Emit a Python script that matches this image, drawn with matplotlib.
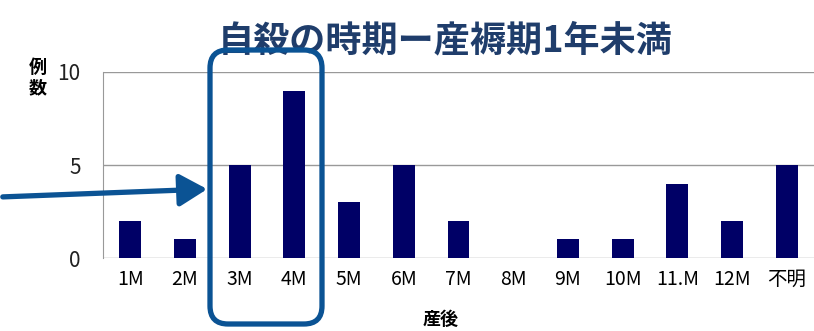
import matplotlib.pyplot as plt
import matplotlib.patches as patches
import numpy as np

plt.rcParams['font.family'] = ['Noto Sans CJK JP', 'DejaVu Sans']

months = ['1M', '2M', '3M', '4M', '5M', '6M', '7M', '8M', '9M', '10M', '11.M', '12M', '不明']
counts = [2, 1, 5, 9, 3, 5, 2, 0, 1, 1, 4, 2, 5]
yticks = [0, 5, 10]

fig = plt.figure(figsize=(8.14, 3.31), dpi=100)
ax = fig.add_axes([0.1265, 0.2205, 0.8735, 0.562])

x = np.arange(len(months))
ax.bar(x, counts, width=0.4, color='#000066', zorder=3)

ax.set_xlim(-0.5, len(months) - 0.5)
ax.set_ylim(0, 10)
ax.set_yticks(yticks)
ax.set_yticklabels([str(v) for v in yticks], fontsize=15, color='#222222')
ax.set_xticks(x)
ax.set_xticklabels(months, fontsize=14)
ax.tick_params(length=0)
ax.tick_params(axis='y', pad=16)
ax.tick_params(axis='x', pad=8)
for v in yticks:
    ax.axhline(v, color='#999999', lw=1, zorder=1)
for s in ['top', 'right', 'bottom']:
    ax.spines[s].set_visible(False)
ax.spines['left'].set_color('#999999')

fig.text(0.547, 0.875, '自殺の時期ー産褥期1年未満', ha='center', va='center',
         fontsize=26, fontweight='bold', color='#1f3d6b')
fig.text(0.046, 0.765, '例\n数', ha='center', va='center', fontsize=13,
         fontweight='bold', linespacing=1.1)
fig.text(0.541, 0.035, '産後', ha='center', va='center', fontsize=13, fontweight='bold')

# highlight box around 3M-4M and pointer arrow (display pixels)
box = patches.FancyBboxPatch((210, 7), 112, 274, boxstyle='round,pad=0,rounding_size=18',
                             fill=False, edgecolor='#0b5394', lw=3.8, transform=None,
                             zorder=10)
fig.patches.append(box)
arrow = patches.FancyArrowPatch((0, 134), (210, 142),
                                arrowstyle='-|>,head_length=1.2,head_width=0.7',
                                mutation_scale=14, color='#0b5394', lw=3.8,
                                transform=None, zorder=10)
fig.patches.append(arrow)

fig.savefig('out.png', dpi=100)
